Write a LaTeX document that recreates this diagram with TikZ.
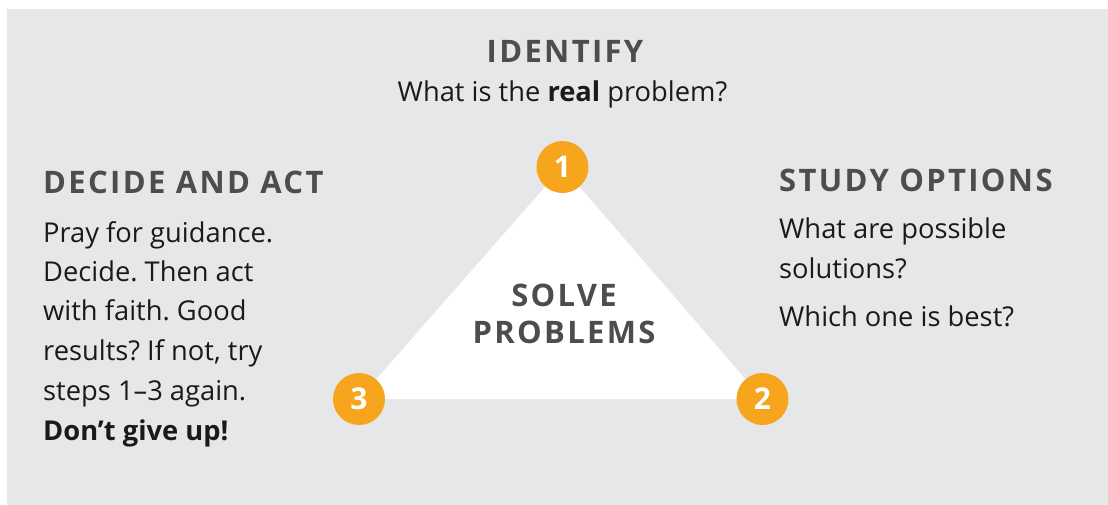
\documentclass[tikz,border=0pt]{standalone}
\usepackage{fontspec}
\setmainfont{Open Sans}
\newfontfamily\headfont[LetterSpace=7.5]{Open Sans}
\definecolor{bg}{HTML}{E6E7E8}
\definecolor{headgray}{HTML}{4D4D4F}
\definecolor{orangec}{HTML}{F6A51D}
\definecolor{textc}{HTML}{1A1A1A}
\tikzset{
  heading/.style={inner sep=0pt, text=headgray, font=\headfont\bfseries\fontsize{31}{37}\selectfont},
  body/.style={inner sep=0pt, text=textc, font=\frenchspacing\fontsize{27.3}{39}\selectfont},
  numcircle/.style={circle, fill=orangec, minimum size=52pt, inner sep=0pt, text=white, font=\bfseries\fontsize{30}{30}\selectfont},
}
\begin{document}
\begin{tikzpicture}[x=1pt,y=-1pt]
\useasboundingbox (0,0) rectangle (1108,504);
\fill[bg] (7,9) rectangle (1115,510);
\coordinate (p1) at (562.5,167);
\coordinate (p2) at (762.5,399);
\coordinate (p3) at (359,399);
\fill[white] (p1) -- (p2) -- (p3) -- cycle;
\node[numcircle] (n1) at (p1) {1};
\node[numcircle] (n2) at (p2) {2};
\node[numcircle] (n3) at (p3) {3};
% centre
\node[heading, anchor=base] (solve) at (564,306) {SOLVE};
\node[heading, anchor=base] (problems) at (564,343) {PROBLEMS};
% top
\node[heading, anchor=base] (identify) at (565,62) {IDENTIFY};
\node[body, anchor=base] (idq) at (562.5,101) {What is the \textbf{real} problem?};
% left
\node[heading, anchor=base west] (decide) at (43,193) {DECIDE AND ACT};
\node[body, anchor=base west] (l1) at (43,242) {Pray for guidance.};
\node[body, anchor=base west] (l2) at (43,281.5) {Decide. Then act};
\node[body, anchor=base west] (l3) at (43,320.5) {with faith. Good};
\node[body, anchor=base west] (l4) at (43,360) {results? If not, try};
\node[body, anchor=base west] (l5) at (43,400) {steps 1–3 again.};
\node[body, anchor=base west] (l6) at (43,440) {\textbf{Don’t give up!}};
% right
\node[heading, anchor=base west] (study) at (779,191) {STUDY OPTIONS};
\node[body, anchor=base west] (r1) at (779,238) {What are possible};
\node[body, anchor=base west] (r2) at (779,278) {solutions?};
\node[body, anchor=base west] (r3) at (779,326) {Which one is best?};
\end{tikzpicture}
\end{document}
